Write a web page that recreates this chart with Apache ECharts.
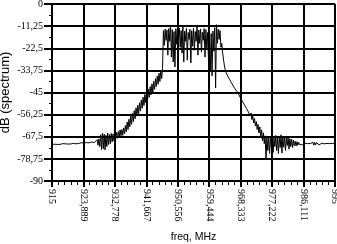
<!DOCTYPE html>
<html><head><meta charset="utf-8">
<script src="https://cdn.jsdelivr.net/npm/echarts@6/dist/echarts.min.js"></script>
<style>html,body{margin:0;padding:0;background:#fff}#c{width:337px;height:244px}</style>
</head><body><div id="c"></div>
<script>
// Spectrum samples: first frequency and spacing (MHz), then dB values
const freqStart = 915;
const freqStep = 0.25;
const dB = [
-71.4,-71.2,-71.5,-71.3,-71.4,-71.1,-71.4,-71.3,-71.2,-71.4,
-71.2,-71.3,-71.0,-71.3,-71.2,-71.1,-71.3,-71.0,-71.2,-71.1,
-71.0,-71.2,-70.9,-71.1,-70.9,-71.0,-70.8,-71.1,-70.9,-70.8,
-70.9,-70.7,-70.9,-70.6,-70.8,-70.7,-70.5,-70.8,-70.6,-70.5,
-70.7,-70.4,-70.6,-70.3,-70.5,-70.2,-70.6,-70.1,-70.4,-69.8,
-70.8,-69.0,-71.8,-68.6,-72.5,-66.5,-74.0,-65.8,-73.6,-66.2,
-74.2,-66.8,-72.5,-65.6,-71.5,-66.4,-71.0,-65.8,-70.2,-66.0,
-69.5,-66.0,-69.0,-65.3,-68.2,-64.8,-67.8,-64.0,-67.0,-63.8,
-66.8,-63.0,-66.0,-61.8,-65.0,-60.0,-63.8,-58.6,-62.5,-57.0,
-61.2,-55.6,-59.8,-54.2,-58.4,-52.8,-57.0,-51.5,-55.8,-50.2,
-54.4,-48.8,-53.0,-47.4,-51.6,-46.0,-50.3,-44.8,-48.8,-43.2,
-47.5,-42.0,-46.2,-40.6,-44.9,-39.3,-43.4,-37.9,-42.0,-36.6,
-40.8,-35.2,-39.4,-33.8,-38.0,-32.6,-13.5,-21.0,-12.8,-18.5,
-13.2,-26.0,-12.5,-19.0,-10.8,-27.0,-13.0,-29.5,-14.0,-32.0,
-12.6,-20.5,-11.0,-17.5,-12.2,-22.0,-13.5,-25.0,-10.8,-29.5,
-13.8,-19.0,-12.4,-28.5,-14.5,-18.0,-12.8,-30.0,-13.6,-21.5,
-12.3,-23.5,-14.0,-19.0,-11.0,-26.0,-13.2,-20.0,-12.7,-24.5,
-14.2,-18.5,-12.5,-27.0,-13.0,-22.5,-14.5,-30.0,-13.5,-34.6,
-15.0,-36.5,-13.8,-24.0,-12.0,-42.7,-10.5,-20.0,-12.8,-18.0,
-13.5,-22.0,-20.0,-25.0,-28.5,-31.5,-33.7,-35.0,-36.0,-36.9,
-37.7,-38.5,-39.3,-40.1,-40.9,-41.7,-42.5,-43.2,-44.0,-44.4,
-45.3,-45.6,-46.8,-47.0,-48.4,-48.6,-50.0,-49.9,-51.6,-51.3,
-53.2,-52.6,-54.8,-54.2,-57.0,-55.4,-58.8,-56.8,-60.5,-58.2,
-62.0,-59.8,-63.8,-61.2,-65.6,-62.5,-67.5,-64.0,-69.5,-65.5,
-71.0,-67.0,-79.3,-68.0,-74.5,-67.5,-76.0,-68.2,-73.0,-67.2,
-75.5,-68.0,-72.5,-66.8,-74.5,-67.8,-76.0,-67.5,-73.0,-66.5,
-75.8,-68.0,-72.8,-67.2,-74.5,-68.0,-72.0,-67.8,-73.8,-68.5,
-72.5,-68.8,-73.0,-69.2,-72.0,-69.8,-72.2,-70.0,-71.8,-70.4,
-71.5,-70.8,-71.3,-71.6,-70.9,-71.2,-70.8,-71.1,-70.7,-71.0,
-70.8,-70.6,-71.0,-70.4,-71.6,-70.3,-71.8,-70.4,-71.7,-70.5,
-71.5,-70.6,-71.6,-70.7,-71.3,-70.8,-71.0,-70.7,-71.1,-70.8,
-71.0,-70.9,-71.1,-70.8,-71.0,-70.9,-71.0,-70.8,-71.0,-70.9,
-71.0
];
const xMin = 915, xMax = 995;
const yMin = -90, yMax = 0;
const xTickLabels = ["915","923,889","932,778","941,667","950,556","959,444","968,333","977,222","986,111","995"];
const yTickLabels = ["-90","-78,75","-67,5","-56,25","-45","-33,75","-22,5","-11,25","0"];
const xName = "freq, MHz";
const yName = "dB (spectrum)";

const xInterval = (xMax - xMin) / (xTickLabels.length - 1);
const yInterval = (yMax - yMin) / (yTickLabels.length - 1);
const points = dB.map((v, i) => [freqStart + i * freqStep, v]);

const serif = '"Liberation Serif", "Times New Roman", serif';
const sans = '"Liberation Sans", Arial, sans-serif';
const chart = echarts.init(document.getElementById('c'), null, {renderer: 'canvas'});
chart.setOption({
  animation: false,
  backgroundColor: '#fff',
  grid: {left: 52, right: 2, top: 4, bottom: 63, containLabel: false, outerBoundsMode: 'none'},
  xAxis: {
    type: 'value', min: xMin, max: xMax, interval: xInterval,
    name: xName, nameLocation: 'middle', nameGap: 51, nameMoveOverlap: false,
    nameTextStyle: {color: '#000', fontFamily: sans, fontSize: 10.5},
    axisLine: {show: true, onZero: false, lineStyle: {color: '#000', width: 2}},
    axisTick: {show: true, length: 6, inside: false, lineStyle: {color: '#000', width: 2}},
    minorTick: {show: true, splitNumber: 5, length: 4, lineStyle: {color: '#000', width: 1}},
    splitLine: {show: true, lineStyle: {color: '#000', width: 2}},
    axisLabel: {rotate: -90, margin: 8, color: '#000', fontFamily: serif, fontSize: 10,
      showMinLabel: true, showMaxLabel: true,
      formatter: v => xTickLabels[Math.round((v - xMin) / xInterval)] || ''}
  },
  yAxis: {
    type: 'value', min: yMin, max: yMax, interval: yInterval,
    name: yName, nameLocation: 'middle', nameGap: 40, nameRotate: 90, nameMoveOverlap: false,
    nameTextStyle: {color: '#000', fontFamily: sans, fontSize: 13},
    axisLine: {show: true, onZero: false, lineStyle: {color: '#000', width: 2}},
    axisTick: {show: true, length: 8, inside: false, lineStyle: {color: '#000', width: 2}},
    minorTick: {show: true, splitNumber: 2, length: 3, lineStyle: {color: '#000', width: 1}},
    splitLine: {show: true, lineStyle: {color: '#000', width: 2}},
    axisLabel: {margin: 9, color: '#000', fontFamily: serif, fontSize: 10,
      showMinLabel: true, showMaxLabel: true,
      formatter: v => yTickLabels[Math.round((v - yMin) / yInterval)] || ''}
  },
  series: [{
    type: 'line', data: points, showSymbol: false, symbol: 'none',
    sampling: null, clip: true,
    lineStyle: {color: '#000', width: 1}
  }]
});
</script>
</body></html>
